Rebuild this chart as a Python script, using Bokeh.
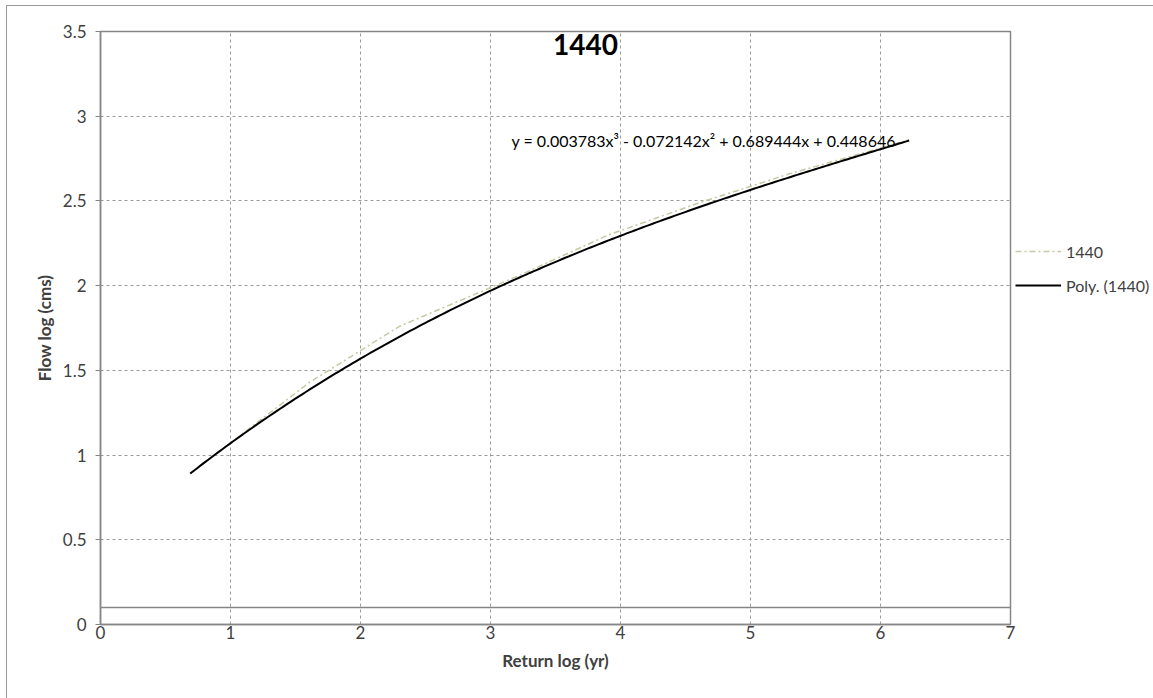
import numpy as np
from bokeh.plotting import figure
from bokeh.models import Legend, LegendItem, Span, FixedTicker
from bokeh.core.properties import value
from bokeh.embed import file_html
from bokeh.resources import INLINE

# ---- data ----
title_text = "1440"
series_name = "1440"
trend_name = "Poly. (1440)"
return_log = [0.69, 1.61, 2.30, 3.22, 3.91, 4.61, 5.30, 6.22]
flow_log = [0.89, 1.43, 1.76, 2.06, 2.30, 2.49, 2.66, 2.86]
coef = [0.003783, -0.072142, 0.689444, 0.448646]  # x^3, x^2, x, const
eq_text = "y = 0.003783x³ - 0.072142x² + 0.689444x + 0.448646"
x_ticks = [0, 1, 2, 3, 4, 5, 6, 7]
y_ticks = [0, 0.5, 1, 1.5, 2, 2.5, 3, 3.5]
base_line = 0.1

FONT = "Lato"
GRAY = "#868686"
TXT = "#404040"

p = figure(frame_width=910, frame_height=593, x_range=(0, 7), y_range=(0, 3.5),
           output_backend="svg", toolbar_location=None,
           min_border_left=93, min_border_right=20, min_border_top=25, min_border_bottom=74)
p.styles = {"margin-left": "6px", "margin-top": "5px",
            "border-left": "1.5px solid #9a9a9a", "border-top": "1.5px solid #9a9a9a"}

p.title.visible = False
p.outline_line_color = GRAY
p.outline_line_width = 1.5
p.background_fill_color = "white"

for ax in (p.xaxis[0], p.yaxis[0]):
    ax.axis_line_color = GRAY
    ax.axis_line_width = 1.5
    ax.major_tick_line_color = GRAY
    ax.minor_tick_line_color = None
    ax.major_label_text_font = FONT
    ax.major_label_text_font_size = "17px"
    ax.major_label_text_color = TXT
    ax.axis_label_text_font = FONT
    ax.axis_label_text_font_style = "bold"
    ax.axis_label_text_font_size = "17px"
    ax.axis_label_text_color = TXT

p.xaxis.major_tick_out = 0
p.xaxis.major_tick_in = 0
p.yaxis.major_tick_out = 5
p.yaxis.major_tick_in = 0

p.xaxis.ticker = FixedTicker(ticks=x_ticks)
p.yaxis.ticker = FixedTicker(ticks=y_ticks)
p.yaxis.major_label_overrides = {0: "0", 0.5: "0.5", 1: "1", 1.5: "1.5", 2: "2",
                                 2.5: "2.5", 3: "3", 3.5: "3.5"}
p.xaxis.axis_label = "Return log (yr)"
p.yaxis.axis_label = "Flow log (cms)"
p.xaxis.major_label_standoff = 1
p.yaxis.major_label_standoff = 9
p.xaxis.axis_label_standoff = 8
p.yaxis.axis_label_standoff = 5

p.xgrid.grid_line_color = "#9a9a9a"
p.xgrid.grid_line_dash = "3 3"
p.ygrid.grid_line_color = "#9a9a9a"
p.ygrid.grid_line_dash = "3 3"

p.add_layout(Span(location=base_line, dimension="width", line_color=GRAY, line_width=1.5))

# data series
r_data = p.line(return_log, flow_log, line_color="#c8c8a4", line_width=1.5, line_dash="6 3 2 3")

# trendline from the displayed coefficients
xt = np.linspace(return_log[0], return_log[-1], 200)
yt = np.polyval(coef, xt)
r_trend = p.line(xt, yt, line_color="black", line_width=2)

# equation label
p.text(x=[4.64], y=[2.857], text=[eq_text], text_font=value(FONT), text_font_size="16px",
       text_color="black", text_align="center", text_baseline="middle")

# title
p.text(x=[3.73], y=[3.425], text=[title_text], text_font=value(FONT), text_font_size="28px",
       text_font_style="bold", text_color="black", text_align="center", text_baseline="middle")

legend = Legend(items=[LegendItem(label=series_name, renderers=[r_data]),
                       LegendItem(label=trend_name, renderers=[r_trend])],
                location=(5, 329))
legend.border_line_color = None
legend.background_fill_alpha = 0
legend.label_text_font = FONT
legend.label_text_font_size = "16px"
legend.label_text_color = TXT
legend.glyph_width = 46
legend.spacing = 14
legend.label_standoff = 5
legend.padding = 5
legend.margin = 0
p.add_layout(legend, "right")

open("out.html", "w").write(file_html(p, INLINE))
